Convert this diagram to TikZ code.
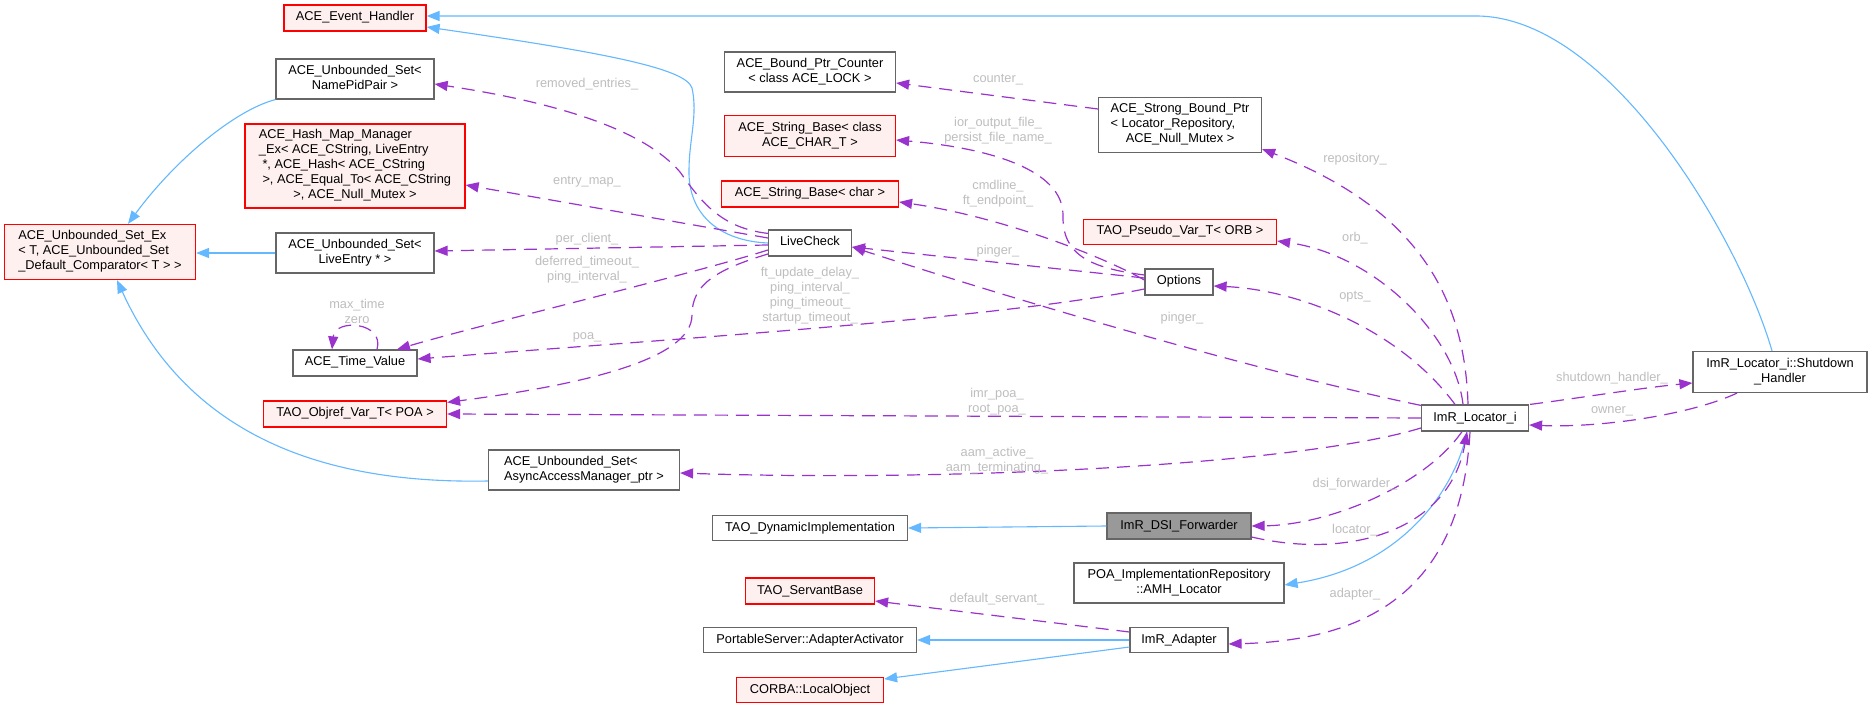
\documentclass[tikz,border=0pt]{standalone}
\usepackage{fontspec}
\setmainfont{Liberation Sans}
\usetikzlibrary{arrows.meta}

\definecolor{edgeblue}{HTML}{63B8FF}
\definecolor{edgepurple}{HTML}{9A32CD}
\definecolor{labelgrey}{HTML}{BEBEBE}
\definecolor{boxgrey}{HTML}{666666}
\definecolor{fillred}{HTML}{FFF0F0}
\definecolor{fillcur}{HTML}{999999}

% multi-line class names: left aligned, last line centred
\newcommand{\boxlines}[1]{\begin{tabular}{@{}l@{}}#1\end{tabular}}
\newcommand{\lastln}[1]{\multicolumn{1}{@{}c@{}}{#1}}

\begin{document}
\begin{tikzpicture}[x=1pt,y=-1pt,
  cls/.style={draw=boxgrey,fill=white,line width=1.2pt,inner sep=0pt,
    font=\fontsize{12.8}{15}\selectfont,execute at begin node=\strut},
  undoc/.style={cls,draw=red,fill=fillred},
  cur/.style={cls,fill=fillcur},
  sz/.style 2 args={minimum width=#1pt,minimum height=#2pt},
  inh/.style={draw=edgeblue,line width=1.1pt,-{Triangle[length=13pt,width=10pt]}},
  usage/.style={draw=edgepurple,line width=1.2pt,dash pattern=on 13pt off 8pt,
    -{Triangle[length=13pt,width=10pt]}},
  lbl/.style={text=labelgrey,inner sep=0pt,align=center,
    font=\fontsize{12.8}{15}\selectfont}]
\path[use as bounding box,fill=white] (0,0) rectangle (1872,708);

% classes
\node[undoc,sz={142}{26}] (evh) at (355,18) {ACE\_Event\_Handler};
\node[cls,sz={158}{40}] (npp) at (355,79) {\boxlines{ACE\_Unbounded\_Set<\\\lastln{NamePidPair >}}};
\node[undoc,sz={220}{84}] (hmm) at (355,166) {\boxlines{ACE\_Hash\_Map\_Manager\\\_Ex< ACE\_CString, LiveEntry\\\ *, ACE\_Hash< ACE\_CString\\\ >, ACE\_Equal\_To< ACE\_CString\\\lastln{>, ACE\_Null\_Mutex >}}};
\node[undoc,sz={191}{55}] (usx) at (100,252) {\boxlines{ACE\_Unbounded\_Set\_Ex\\< T, ACE\_Unbounded\_Set\\\lastln{\_Default\_Comparator< T > >}}};
\node[cls,sz={158}{40}] (lve) at (355,253) {\boxlines{ACE\_Unbounded\_Set<\\\lastln{LiveEntry * >}}};
\node[cls,sz={124}{26}] (tv) at (355,363) {ACE\_Time\_Value};
\node[undoc,sz={183}{26}] (poa) at (355,414) {TAO\_Objref\_Var\_T< POA >};
\node[cls,sz={191}{40}] (aam) at (584,470) {\boxlines{ACE\_Unbounded\_Set<\\\lastln{AsyncAccessManager\_ptr >}}};
\node[cls,sz={171}{40}] (bpc) at (810,72) {\boxlines{ACE\_Bound\_Ptr\_Counter\\\lastln{< class ACE\_LOCK >}}};
\node[undoc,sz={171}{41}] (sbc) at (810,136) {\boxlines{ACE\_String\_Base< class\\\lastln{ACE\_CHAR\_T >}}};
\node[undoc,sz={177}{26}] (sbch) at (810,194) {ACE\_String\_Base< char >};
\node[cls,sz={83}{26}] (lc) at (810,243) {LiveCheck};
\node[cls,sz={195}{25}] (dyn) at (810,528) {TAO\_DynamicImplementation};
\node[undoc,sz={129}{26}] (sb) at (810,591) {TAO\_ServantBase};
\node[cls,sz={213}{25}] (aa) at (810,640) {PortableServer::AdapterActivator};
\node[undoc,sz={147}{25}] (lo) at (810,690) {CORBA::LocalObject};
\node[cls,sz={163}{55}] (sbp) at (1180,125) {\boxlines{ACE\_Strong\_Bound\_Ptr\\< Locator\_Repository,\\\lastln{ACE\_Null\_Mutex >}}};
\node[undoc,sz={193}{25}] (orb) at (1180,232) {TAO\_Pseudo\_Var\_T< ORB >};
\node[cls,sz={68}{26}] (opt) at (1179,282) {Options};
\node[cur,sz={144}{26}] (dsi) at (1179,526) {ImR\_DSI\_Forwarder};
\node[cls,sz={210}{40}] (amh) at (1179,583) {\boxlines{POA\_ImplementationRepository\\\lastln{::AMH\_Locator}}};
\node[cls,sz={98}{25}] (ada) at (1179,640) {ImR\_Adapter};
\node[cls,sz={107}{26}] (loc) at (1475,418) {ImR\_Locator\_i};
\node[cls,sz={174}{41}] (shd) at (1780,372) {\boxlines{ImR\_Locator\_i::Shutdown\\\lastln{\_Handler}}};

% inheritance
\draw[inh] (npp.south west) .. controls (235,110) and (175,160) .. ([xshift=28pt]usx.north);
\draw[inh] (lve.west) -- (lve.west -| usx.east);
\draw[inh] ([yshift=-11pt]aam.west) .. controls (330,484) and (190,440) .. ([xshift=17pt]usx.south);
\draw[inh] (lc.west) .. controls (720,241) and (688,215) .. (689,170)
  .. controls (689,140) and (698,115) .. (692,88)
  .. controls (686,68) and (600,52) .. ([yshift=-9pt]evh.east);
\draw[inh] ([xshift=-8pt]shd.north) .. controls (1740,240) and (1610,16) .. (1476,16)
  -- ([yshift=2pt]evh.east);
\draw[inh] (dsi.west) -- (dyn.east);
\draw[inh] (ada.west) -- (aa.east);
\draw[inh] ([yshift=-7pt]ada.west) -- ([yshift=11pt]lo.east);
\draw[inh] ([xshift=-8pt]loc.south) .. controls (1458,480) and (1410,565) .. ([yshift=-2pt]amh.east);

% members
\draw[usage] ([yshift=-4pt]lc.north west) .. controls (720,228) and (700,200) .. (680,172)
  .. controls (640,125) and (540,100) .. ([yshift=-5pt]npp.east);
\draw[usage] ([yshift=5pt]lc.west) -- ([yshift=-19pt]hmm.east);
\draw[usage] ([yshift=-2pt]lc.west) -- ([yshift=2pt]lve.east);
\draw[usage] ([yshift=-7pt]lc.west) .. controls (700,272) and (480,325) .. ([xshift=42pt]tv.north);
\draw[usage] ([yshift=-11pt]lc.west) .. controls (715,270) and (692,285) .. (692,315)
  .. controls (692,360) and (580,385) .. ([yshift=-2pt]poa.north east);
\draw[usage] ([xshift=22pt]tv.north) .. controls (385,322) and (335,318) .. ([xshift=-23pt]tv.north);
\draw[usage] ([yshift=-7pt]opt.west) .. controls (1000,318) and (700,337) .. ([yshift=4pt]tv.east);
\draw[usage] ([yshift=4pt]opt.west) -- ([yshift=-4pt]lc.east);
\draw[usage] ([yshift=7pt]opt.west) .. controls (1090,268) and (1062,255) .. (1063,215)
  .. controls (1063,170) and (990,148) .. ([yshift=-4pt]sbc.east);
\draw[usage] ([yshift=2pt]opt.west) .. controls (1090,250) and (990,215) .. ([yshift=-8pt]sbch.east);
\draw[usage] ([yshift=16pt]sbp.west) -- ([yshift=-11pt]bpc.east);
\draw[usage] ([yshift=-1pt]loc.north west) .. controls (1250,370) and (1000,295) .. ([yshift=-4pt]lc.east);
\draw[usage] ([xshift=-7pt]loc.north) .. controls (1465,300) and (1420,210) .. ([yshift=4pt]sbp.south east);
\draw[usage] ([xshift=-12pt]loc.north) .. controls (1455,335) and (1375,255) .. ([yshift=-9pt]orb.east);
\draw[usage] ([xshift=-20pt]loc.north) .. controls (1400,330) and (1300,290) .. ([yshift=-4pt]opt.east);
\draw[usage] (loc.west) -- (poa.east);
\draw[usage] ([yshift=-10pt]loc.west) .. controls (1300,465) and (950,482) .. ([yshift=-3pt]aam.east);
\draw[usage] ([xshift=-13pt]loc.south) .. controls (1425,485) and (1330,525) .. (dsi.east);
\draw[usage] ([yshift=-11pt]dsi.east) .. controls (1350,560) and (1450,530) .. ([xshift=-8pt]loc.south);
\draw[usage] ([xshift=-5pt]loc.south) .. controls (1462,580) and (1380,640) .. ([yshift=-4pt]ada.east);
\draw[usage] ([xshift=1pt]loc.north east) .. controls (1580,398) and (1640,388) .. ([yshift=-11pt]shd.west);
\draw[usage] ([xshift=-43pt]shd.south) .. controls (1690,415) and (1600,428) .. ([yshift=-7pt]loc.east);
\draw[usage] ([yshift=8pt]ada.west) -- ([yshift=-10pt]sb.east);

% member names
\node[lbl] (l-removed) at (587,84) {removed\_entries\_};
\node[lbl] (l-entry) at (587,182) {entry\_map\_};
\node[lbl] (l-client) at (587,239) {per\_client\_};
\node[lbl] (l-deferred) at (587,270) {deferred\_timeout\_\\ping\_interval\_};
\node[lbl] (l-poa) at (587,337) {poa\_};
\node[lbl] (l-max) at (357,311) {max\_time\\zero};
\node[lbl] (l-counter) at (998,80) {counter\_};
\node[lbl] (l-ior) at (998,131) {ior\_output\_file\_\\persist\_file\_name\_};
\node[lbl] (l-cmd) at (998,194) {cmdline\_\\ft\_endpoint\_};
\node[lbl] (l-pinger) at (998,251) {pinger\_};
\node[lbl] (l-times) at (810,296) {ft\_update\_delay\_\\ping\_interval\_\\ping\_timeout\_\\startup\_timeout\_};
\node[lbl] (l-pinger2) at (1182,318) {pinger\_};
\node[lbl] (l-repo) at (1355,159) {repository\_};
\node[lbl] (l-orb) at (1355,238) {orb\_};
\node[lbl] (l-opts) at (1355,297) {opts\_};
\node[lbl] (l-imrpoa) at (997,402) {imr\_poa\_\\root\_poa\_};
\node[lbl] (l-aam) at (997,461) {aam\_active\_\\aam\_terminating\_};
\node[lbl] (l-dsi) at (1355,484) {dsi\_forwarder\_};
\node[lbl] (l-locator) at (1355,530) {locator\_};
\node[lbl] (l-adapter) at (1355,594) {adapter\_};
\node[lbl] (l-servant) at (997,599) {default\_servant\_};
\node[lbl] (l-shutdown) at (1612,378) {shutdown\_handler\_};
\node[lbl] (l-owner) at (1612,411) {owner\_};
\end{tikzpicture}
\end{document}
